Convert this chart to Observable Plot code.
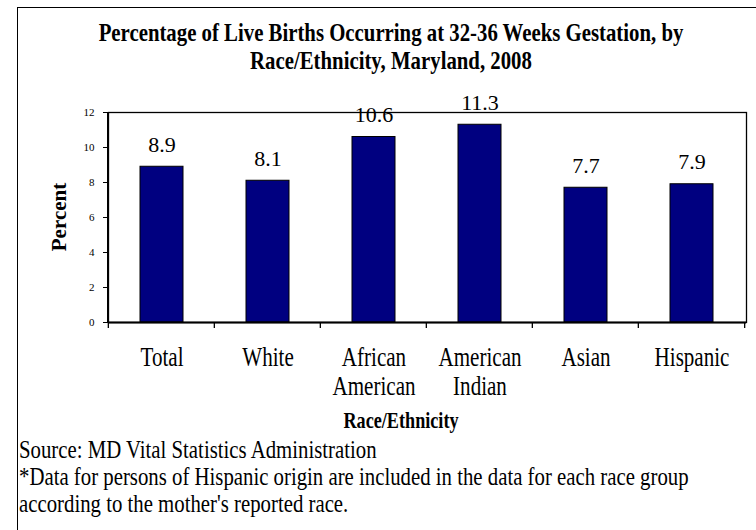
<!DOCTYPE html>
<html>
<head>
<meta charset="utf-8">
<script src="https://cdn.jsdelivr.net/npm/d3@7"></script>
<script src="https://cdn.jsdelivr.net/npm/@observablehq/plot@0.6"></script>
<style>
html, body { margin: 0; padding: 0; background: #fff; }
#wrap { position: relative; width: 756px; height: 530px; overflow: hidden; background: #fff; }
#box { position: absolute; left: 16.5px; top: 6.5px; width: 800px; height: 600px; border: 1.5px solid #000; box-sizing: border-box; }
#chart { position: absolute; left: 0; top: 0; }
</style>
</head>
<body>
<div id="wrap"><div id="box"></div><div id="chart"></div></div>
<script>
// ---- data ----
const categories = ["Total", "White", "African American", "American Indian", "Asian", "Hispanic"];
const tickLabels = ["Total", "White", "African\nAmerican", "American\nIndian", "Asian", "Hispanic"];
const percents = [8.9, 8.1, 10.6, 11.3, 7.7, 7.9];
const yTicks = [0, 2, 4, 6, 8, 10, 12];
const titleLines = ["Percentage of Live Births Occurring at 32-36 Weeks Gestation, by", "Race/Ethnicity, Maryland, 2008"];
const xTitle = "Race/Ethnicity";
const yTitle = "Percent";
const captionLines = [
  "Source: MD Vital Statistics Administration",
  "*Data for persons of Hispanic origin are included in the data for each race group",
  "according to the mother's reported race."
];

const data = categories.map((c, i) => ({category: c, value: percents[i], label: tickLabels[i]}));
const FONT = "'Liberation Serif', 'Times New Roman', serif";

const chart = Plot.plot({
  width: 756,
  height: 530,
  marginLeft: 108,
  marginRight: 10,
  marginTop: 112,
  marginBottom: 208,
  style: {fontFamily: FONT, background: "transparent", color: "#000", overflow: "visible"},
  x: {domain: categories, paddingInner: 0.59, paddingOuter: 0.295, axis: null},
  y: {domain: [0, 12], axis: null},
  marks: [
    Plot.barY(data, {x: "category", y: "value", fill: "#000080", stroke: "#000", strokeWidth: 1}),
    Plot.frame({stroke: "#000", strokeWidth: 1.3}),
    Plot.ruleY([0], {stroke: "#000", strokeWidth: 2}),
    Plot.axisY({ticks: yTicks, tickSize: 5, tickPadding: 9, fontSize: 11, label: null, stroke: "#000"}),
    Plot.axisX({tickSize: 0, tickPadding: 24, fontSize: 27, lineHeight: 1.04, label: null,
      tickFormat: d => tickLabels[categories.indexOf(d)]}),
    Plot.text(data, {x: "category", y: "value", text: d => d.value.toFixed(1), dy: -22, fontSize: 22, lineAnchor: "middle"})
  ]
});

document.getElementById("chart").appendChild(chart);

const svg = d3.select(chart);
const xs = chart.scale("x");
const ys = chart.scale("y");
const x0 = xs.range[0], x1 = xs.range[1];
const yBottom = ys.range[0], yTop = ys.range[1];
const step = (x1 - x0) / xs.domain.length;

// narrow x tick labels as in the reference
svg.selectAll('g[aria-label="x-axis tick label"] text').each(function() {
  const t = this.getAttribute("transform") || "";
  this.setAttribute("transform", t + " scale(0.78,1)");
});

// left axis line
svg.append("line").attr("x1", x0).attr("x2", x0).attr("y1", yTop).attr("y2", yBottom + 1)
  .attr("stroke", "#000").attr("stroke-width", 2);
// category boundary ticks
const bounds = xs.domain.map(d => xs.apply(d) - (step - xs.bandwidth) / 2);
bounds.push(bounds[bounds.length - 1] + step);
svg.append("g").selectAll("line").data(bounds).join("line")
  .attr("x1", d => d).attr("x2", d => d).attr("y1", yBottom).attr("y2", yBottom + 6)
  .attr("stroke", "#000").attr("stroke-width", 1.3);

// title
const title = svg.append("g").attr("font-family", FONT).attr("font-weight", "bold").attr("font-size", 26).attr("text-anchor", "middle");
titleLines.forEach((s, i) => {
  title.append("text").attr("transform", `translate(391,${41 + i * 28}) scale(0.8,1)`).text(s);
});
// y title
svg.append("text").attr("font-family", FONT).attr("font-weight", "bold").attr("font-size", 21)
  .attr("text-anchor", "middle").attr("transform", `translate(66,${(yTop + yBottom) / 2}) rotate(-90)`).text(yTitle);
// x title
svg.append("text").attr("font-family", FONT).attr("font-weight", "bold").attr("font-size", 23)
  .attr("text-anchor", "middle").attr("transform", "translate(401,428) scale(0.79,1)").text(xTitle);
// caption
const cap = svg.append("g").attr("font-family", FONT).attr("font-size", 26).attr("text-anchor", "start");
captionLines.forEach((s, i) => {
  cap.append("text").attr("transform", `translate(19,${458 + i * 27}) scale(0.8,1)`).text(s);
});
</script>
</body>
</html>
